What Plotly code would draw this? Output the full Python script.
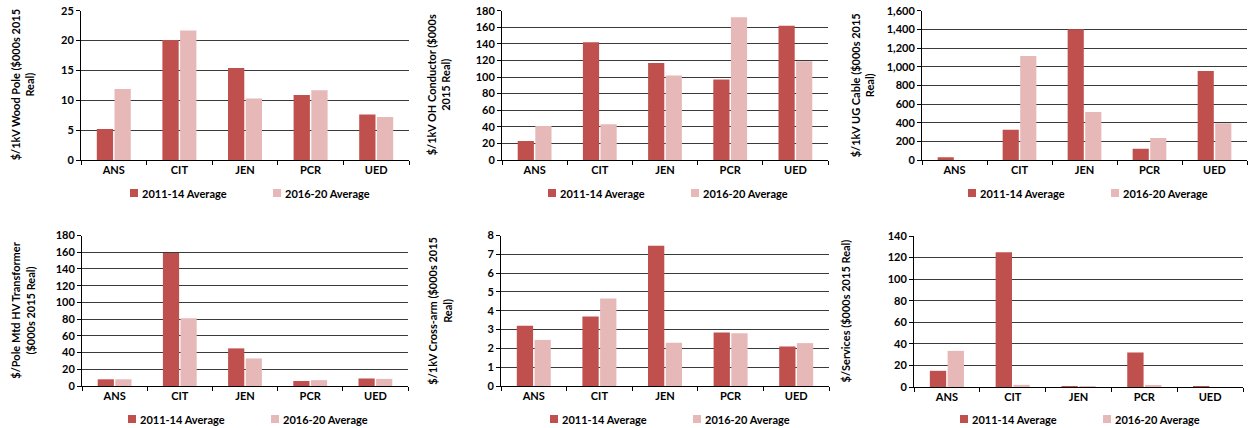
import plotly.graph_objects as go

categories = ["ANS", "CIT", "JEN", "PCR", "UED"]
series_names = ["2011-14 Average", "2016-20 Average"]
colors = ["#C0504D", "#E6B9B8"]

wood_pole_2011 = [5.2, 20.1, 15.4, 10.9, 7.6]
wood_pole_2016 = [11.9, 21.7, 10.3, 11.7, 7.2]
oh_conductor_2011 = [23, 142, 117, 97, 162]
oh_conductor_2016 = [41, 43, 102, 172, 119]
ug_cable_2011 = [30, 325, 1400, 120, 955]
ug_cable_2016 = [0, 1115, 515, 235, 395]
transformer_2011 = [8, 159, 45, 6, 9]
transformer_2016 = [8, 81, 33, 7, 8.5]
cross_arm_2011 = [3.2, 3.7, 7.45, 2.85, 2.1]
cross_arm_2016 = [2.45, 4.65, 2.3, 2.8, 2.28]
services_2011 = [15, 125, 0.8, 32, 0.5]
services_2016 = [33.5, 2, 0.5, 1, 0]

y_titles = [
    "$/1kV Wood Pole ($000s 2015<br>Real)",
    "$/1kV OH Conductor ($000s<br>2015 Real)",
    "$/1kV UG Cable ($000s 2015<br>Real)",
    "$/Pole Mtd HV Transformer<br>($000s 2015 Real)",
    "$/1kV Cross-arm ($000s 2015<br>Real)",
    "$/Services ($000s 2015 Real)",
]
y_ranges = [(0, 25, 5), (0, 180, 20), (0, 1600, 200), (0, 180, 20), (0, 8, 1), (0, 140, 20)]
panel_data = [
    (wood_pole_2011, wood_pole_2016),
    (oh_conductor_2011, oh_conductor_2016),
    (ug_cable_2011, ug_cable_2016),
    (transformer_2011, transformer_2016),
    (cross_arm_2011, cross_arm_2016),
    (services_2011, services_2016),
]

W, H = 1252, 428
# plot-area boxes in pixels: (left, right, top, bottom)
boxes = [
    (81, 409, 10.7, 160), (502, 828, 10.7, 160), (922, 1247, 10.7, 160),
    (82, 408, 235.5, 386), (501, 829, 235.5, 386), (914, 1243, 236, 387),
]
title_x = [22, 438, 862, 23, 440, 845]
# legend row per panel: left edge of the first swatch, vertical centre
legend_pos = [(130, 193), (548, 193), (968, 193), (128, 419), (550, 419), (960, 419)]
SWATCH = 8
ENTRY_STEP = 143

FONT = "Lato, 'Open Sans', sans-serif"
fig = go.Figure()
layout = {}
annotations = []
shapes = []

for i, ((s1, s2), (ymin, ymax, dtick), box) in enumerate(zip(panel_data, y_ranges, boxes)):
    n = i + 1
    xa = "x" if n == 1 else f"x{n}"
    ya = "y" if n == 1 else f"y{n}"
    for vals, name, col in zip((s1, s2), series_names, colors):
        fig.add_trace(go.Bar(
            x=categories, y=vals, name=name, marker=dict(color=col, line=dict(width=0)),
            xaxis=xa, yaxis=ya, showlegend=False,
        ))
    l, r, t, b = box
    layout[f"xaxis{'' if n == 1 else n}"] = dict(
        domain=[l / W, r / W], anchor=ya, showline=True, linecolor="#000000", linewidth=1,
        ticks="outside", tickson="boundaries", ticklen=4, tickcolor="#000000",
        showgrid=False, tickfont=dict(family=FONT, size=11, color="#000000", weight="bold"),
        fixedrange=True,
    )
    layout[f"yaxis{'' if n == 1 else n}"] = dict(
        domain=[1 - b / H, 1 - t / H], anchor=xa, range=[ymin, ymax], dtick=dtick,
        tickformat=",", showline=True, linecolor="#000000", linewidth=1,
        ticks="outside", ticklen=4, tickcolor="#000000",
        showgrid=True, gridcolor="#3a3a3a", gridwidth=1, zeroline=False,
        tickfont=dict(family=FONT, size=11, color="#000000", weight="bold"),
        fixedrange=True,
    )
    # legend: colour swatch followed by series name
    lx, ly = legend_pos[i]
    for k, (name, col) in enumerate(zip(series_names, colors)):
        x0 = lx + k * ENTRY_STEP
        shapes.append(dict(
            type="rect", xref="paper", yref="paper",
            x0=x0 / W, x1=(x0 + SWATCH) / W,
            y0=1 - (ly + SWATCH / 2) / H, y1=1 - (ly - SWATCH / 2) / H,
            fillcolor=col, line=dict(width=0),
        ))
        annotations.append(dict(
            text=name, xref="paper", yref="paper", x=(x0 + SWATCH + 2) / W, y=1 - ly / H,
            xanchor="left", yanchor="middle", showarrow=False,
            font=dict(family=FONT, size=11, color="#000000", weight="bold"),
        ))
    annotations.append(dict(
        text=y_titles[i], textangle=-90, xref="paper", yref="paper",
        x=title_x[i] / W, y=1 - ((t + b) / 2) / H, xanchor="center", yanchor="middle",
        showarrow=False, font=dict(family=FONT, size=11, color="#000000", weight="bold"),
    ))

fig.update_layout(
    width=W, height=H, margin=dict(l=0, r=0, t=0, b=0, autoexpand=False),
    paper_bgcolor="white", plot_bgcolor="white",
    barmode="group", bargap=0.46, bargroupgap=0.08,
    annotations=annotations, shapes=shapes, **layout,
)
fig.write_html("out.html")
